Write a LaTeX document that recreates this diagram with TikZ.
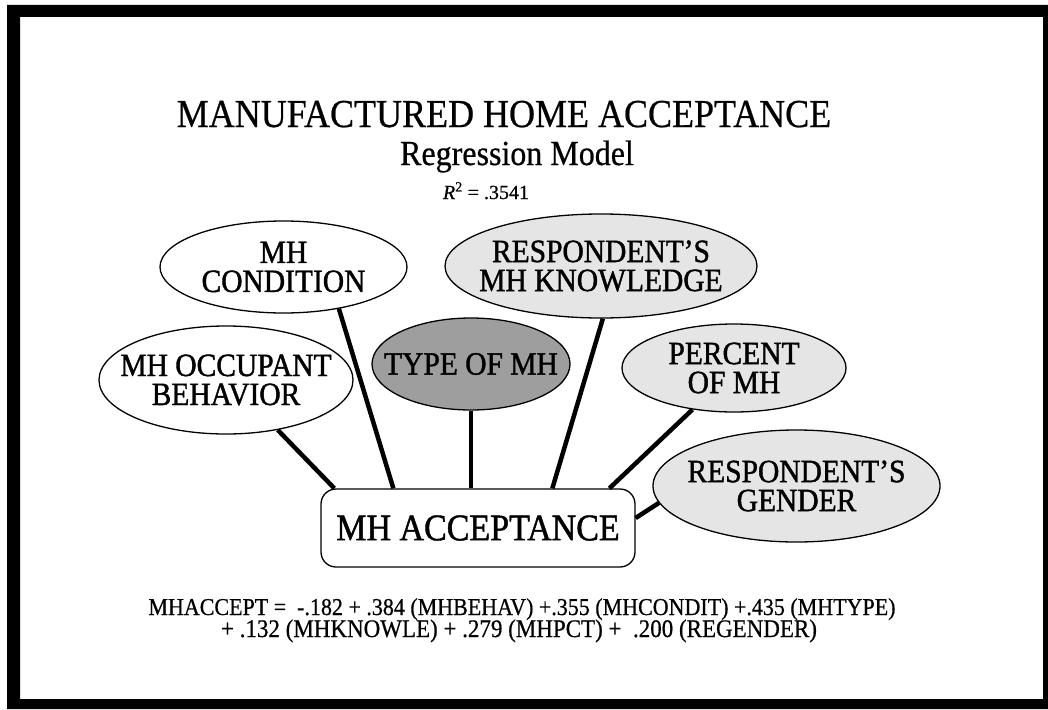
\documentclass[tikz,border=0pt]{standalone}
\usepackage{fontspec}
\usepackage{graphicx}
\setmainfont{Liberation Serif}[FakeBold=0.6]
\newfontfamily\heavy{Liberation Serif}[FakeBold=1.3]
\newcommand{\tall}[1]{\scalebox{1}[1.1]{#1}}
\usetikzlibrary{calc,shapes.geometric}
\begin{document}
\begin{tikzpicture}[x=1pt,y=-1pt,
  ell/.style={ellipse, draw, line width=1.3pt, inner sep=0pt},
  lite/.style={ell, fill=black!10},
  dark/.style={ell, fill=black!38},
  wht/.style={ell, fill=white},
  lbl/.style={align=center, inner sep=0pt, font=\heavy\fontsize{29.5}{29}\selectfont},
  link/.style={line width=4.5pt},
  ]
\useasboundingbox (0,0) rectangle (1048,709);
\fill[black, even odd rule] (7,5) rectangle (1048,709) (20,17) rectangle (1043,699);

\node[anchor=base, font=\fontsize{36}{40}\selectfont] (title) at (504,127) {\tall{MANUFACTURED HOME ACCEPTANCE}};
\node[anchor=base, font=\fontsize{32}{36}\selectfont] (sub) at (517,165) {\tall{Regression Model}};
\node[anchor=base, font=\fontsize{20}{22}\selectfont] (rsq) at (486,199) {\textit{R}\textsuperscript{2} = .3541};

% ellipses
\node[wht, minimum width=247, minimum height=92] (cond) at (283.5,267) {};
\node[wht, minimum width=254, minimum height=108] (beh) at (226,380) {};
\node[dark, minimum width=198, minimum height=92] (type) at (471,364) {};
\node[lite, minimum width=312, minimum height=104] (know) at (601,266) {};
\node[lite, minimum width=224, minimum height=88] (pct) at (734,368) {};
\node[lite, minimum width=287, minimum height=112] (gend) at (796.5,486) {};

\node[lbl] (condT) at (cond.center) {\tall{MH}\\\tall{CONDITION}};
\node[lbl] (behT) at (beh.center) {\tall{MH OCCUPANT}\\\tall{BEHAVIOR}};
\node[lbl] (typeT) at (type.center) {\tall{TYPE OF MH}};
\node[lbl] (knowT) at (know.center) {\tall{RESPONDENT’S}\\\tall{MH KNOWLEDGE}};
\node[lbl] (pctT) at (pct.center) {\tall{PERCENT}\\\tall{OF MH}};
\node[lbl] (gendT) at (gend.center) {\tall{RESPONDENT’S}\\\tall{GENDER}};

% central box
\node[draw, line width=1.3pt, rounded corners=15pt, minimum width=314, minimum height=78,
      inner sep=0pt, font=\heavy\fontsize{34}{38}\selectfont] (acc) at (478,528) {\tall{MH ACCEPTANCE}};

% connectors
\draw[link] (beh.-44) -- ($(acc.north west)+(14,0)$);
\draw[link] (cond.-37.5) -- ($(acc.north west)+(73,0)$);
\draw[link] (type.south) -- (type.south |- acc.north);
\draw[link] (know.-88) -- ($(acc.north west)+(232,0)$);
\draw[link] (pct.-135) -- ($(acc.north west)+(289,0)$);
\draw[link] (gend.-173) -- ($(acc.east)+(0,-10)$);

% equation
\node[anchor=base, font=\fontsize{22}{24}\selectfont] (eq1) at (522,615)
  {\tall{MHACCEPT = \ -.182 + .384 (MHBEHAV) +.355 (MHCONDIT) +.435 (MHTYPE)}};
\node[anchor=base, font=\fontsize{23}{24}\selectfont] (eq2) at (519,637)
  {\tall{+ .132 (MHKNOWLE) + .279 (MHPCT) + \ .200 (REGENDER)}};
\end{tikzpicture}
\end{document}
